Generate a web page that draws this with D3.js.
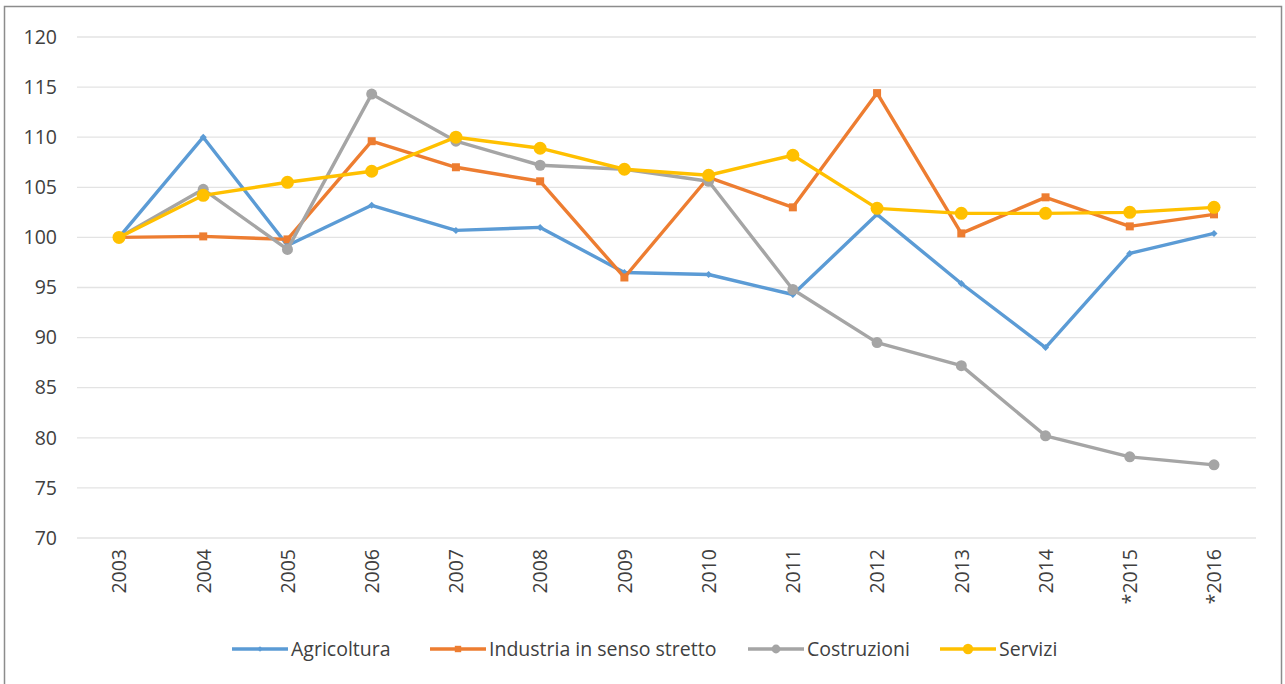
<!DOCTYPE html>
<html><head><meta charset="utf-8">
<script src="https://cdn.jsdelivr.net/npm/d3@7"></script>
<style>body{margin:0;background:#fff;} text{font-family:"Open Sans","Liberation Sans",sans-serif;}</style>
</head><body><svg id="c" width="1285" height="684"></svg>
<script>
const categories = ["2003","2004","2005","2006","2007","2008","2009","2010","2011","2012","2013","2014","*2015","*2016"];
const agricoltura = [100,110,99.2,103.2,100.7,101,96.5,96.3,94.3,102.3,95.4,89,98.4,100.4];
const industria = [100,100.1,99.8,109.6,107,105.6,96,106,103,114.4,100.4,104,101.1,102.3];
const costruzioni = [100,104.8,98.8,114.3,109.6,107.2,106.8,105.6,94.8,89.5,87.2,80.2,78.1,77.3];
const servizi = [100,104.2,105.5,106.6,110,108.9,106.8,106.2,108.2,102.9,102.4,102.4,102.5,103];
const yTicks = [70,75,80,85,90,95,100,105,110,115,120];
const seriesNames = ["Agricoltura","Industria in senso stretto","Costruzioni","Servizi"];

const series = [
  {name:seriesNames[0], values:agricoltura, color:"#5B9BD5", marker:"diamond", ms:3.5},
  {name:seriesNames[1], values:industria, color:"#ED7D31", marker:"square", ms:4},
  {name:seriesNames[2], values:costruzioni, color:"#A5A5A5", marker:"circle", ms:5.5},
  {name:seriesNames[3], values:servizi, color:"#FFC000", marker:"circle", ms:6.5}
];

const svg = d3.select("#c");
svg.append("rect").attr("x",4.5).attr("y",6.5).attr("width",1277).attr("height",700)
  .attr("fill","#fff").attr("stroke","#8c8c8c").attr("stroke-width",1.5);

const x = d3.scalePoint().domain(categories).range([119,1214]);
const y = d3.scaleLinear().domain([70,120]).range([538,37]);
const gx0 = 77, gx1 = 1256;

const grid = svg.append("g");
grid.selectAll("line").data(yTicks).join("line")
  .attr("x1",gx0).attr("x2",gx1).attr("y1",d=>y(d)).attr("y2",d=>y(d))
  .attr("stroke","#e3e3e3").attr("stroke-width",1.3);

const yAxis = svg.append("g").attr("transform","translate(57,0)")
  .call(d3.axisLeft(y).tickValues(yTicks).tickSize(0).tickPadding(0));
yAxis.select(".domain").remove();
yAxis.selectAll("text").attr("font-size",19.5).attr("fill","#404040").attr("x",0);

const xAxis = svg.append("g").attr("transform","translate(0,548)")
  .call(d3.axisBottom(x).tickSize(0));
xAxis.select(".domain").remove();
xAxis.selectAll("text").attr("font-size",19.5).attr("fill","#404040")
  .attr("transform","rotate(-90)").attr("text-anchor","end")
  .attr("x",-1).attr("y",0).attr("dy","0.35em");

const line = d3.line().x((d,i)=>x(categories[i])).y(d=>y(d));

function drawMarker(g, type, cx, cy, s, color){
  if(type==="circle") g.append("circle").attr("cx",cx).attr("cy",cy).attr("r",s).attr("fill",color);
  else if(type==="square") g.append("rect").attr("x",cx-s).attr("y",cy-s).attr("width",2*s).attr("height",2*s).attr("fill",color);
  else g.append("path").attr("d",`M${cx},${cy-s}L${cx+s},${cy}L${cx},${cy+s}L${cx-s},${cy}Z`).attr("fill",color);
}

series.forEach(s=>{
  const g = svg.append("g");
  g.append("path").attr("d",line(s.values)).attr("fill","none").attr("stroke",s.color)
    .attr("stroke-width",3.4).attr("stroke-linejoin","round").attr("stroke-linecap","round");
  s.values.forEach((v,i)=>drawMarker(g,s.marker,x(categories[i]),y(v),s.ms,s.color));
});

// legend
const legX = [232,430,748,940];
const leg = svg.append("g");
series.forEach((s,i)=>{
  const lx = legX[i], ly = 649;
  leg.append("line").attr("x1",lx).attr("x2",lx+56).attr("y1",ly).attr("y2",ly)
    .attr("stroke",s.color).attr("stroke-width",3.4);
  drawMarker(leg,s.marker,lx+28,ly,s.ms*0.8,s.color);
  leg.append("text").attr("x",lx+59).attr("y",ly).attr("dy","0.35em")
    .attr("font-size",19.5).attr("fill","#404040").text(s.name);
});
</script></body></html>
